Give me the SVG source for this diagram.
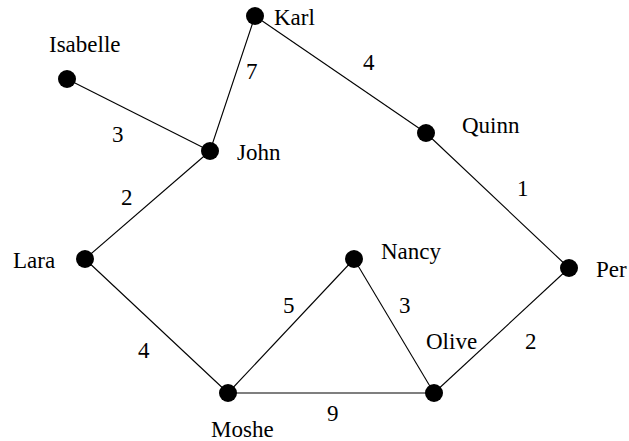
<svg xmlns="http://www.w3.org/2000/svg" width="629" height="441" viewBox="0 0 629 441">
  <style>
    .edge { stroke: #000; stroke-width: 1.1; fill: none; }
    .node circle { fill: #000; }
  </style>
  <rect width="629" height="441" fill="#fff"/>
  <g font-family="'Liberation Serif', 'DejaVu Serif', serif" font-size="23" fill="#000">
  <g id="edges">
    <line class="edge" x1="67" y1="79" x2="210" y2="151"/>
    <line class="edge" x1="255" y1="16" x2="210" y2="151"/>
    <line class="edge" x1="255" y1="16" x2="426" y2="133"/>
    <line class="edge" x1="426" y1="133" x2="569" y2="268"/>
    <line class="edge" x1="210" y1="151" x2="85" y2="259"/>
    <line class="edge" x1="85" y1="259" x2="228" y2="393"/>
    <line class="edge" x1="228" y1="393" x2="354" y2="259"/>
    <line class="edge" x1="354" y1="259" x2="434" y2="393"/>
    <line class="edge" x1="228" y1="393" x2="434" y2="393"/>
    <line class="edge" x1="434" y1="393" x2="569" y2="268"/>
    <text x="246" y="79">7</text>
    <text x="112" y="142">3</text>
    <text x="363" y="70">4</text>
    <text x="121" y="205">2</text>
    <text x="517" y="196">1</text>
    <text x="283" y="313">5</text>
    <text x="138" y="358">4</text>
    <text x="399" y="313">3</text>
    <text x="525" y="349">2</text>
    <text x="327" y="421">9</text>
  </g>
  <g id="karl" class="node"><circle cx="255" cy="16" r="9"/><text x="274" y="25">Karl</text></g>
  <g id="isabelle" class="node"><circle cx="67" cy="79" r="9"/><text x="49" y="52">Isabelle</text></g>
  <g id="john" class="node"><circle cx="210" cy="151" r="9"/><text x="237" y="160">John</text></g>
  <g id="quinn" class="node"><circle cx="426" cy="133" r="9"/><text x="462" y="133">Quinn</text></g>
  <g id="lara" class="node"><circle cx="85" cy="259" r="9"/><text x="13" y="268">Lara</text></g>
  <g id="nancy" class="node"><circle cx="354" cy="259" r="9"/><text x="381" y="259">Nancy</text></g>
  <g id="per" class="node"><circle cx="569" cy="268" r="9"/><text x="596" y="277">Per</text></g>
  <g id="moshe" class="node"><circle cx="228" cy="393" r="9"/><text x="211" y="437">Moshe</text></g>
  <g id="olive" class="node"><circle cx="434" cy="393" r="9"/><text x="426" y="349">Olive</text></g>
  </g>
</svg>
